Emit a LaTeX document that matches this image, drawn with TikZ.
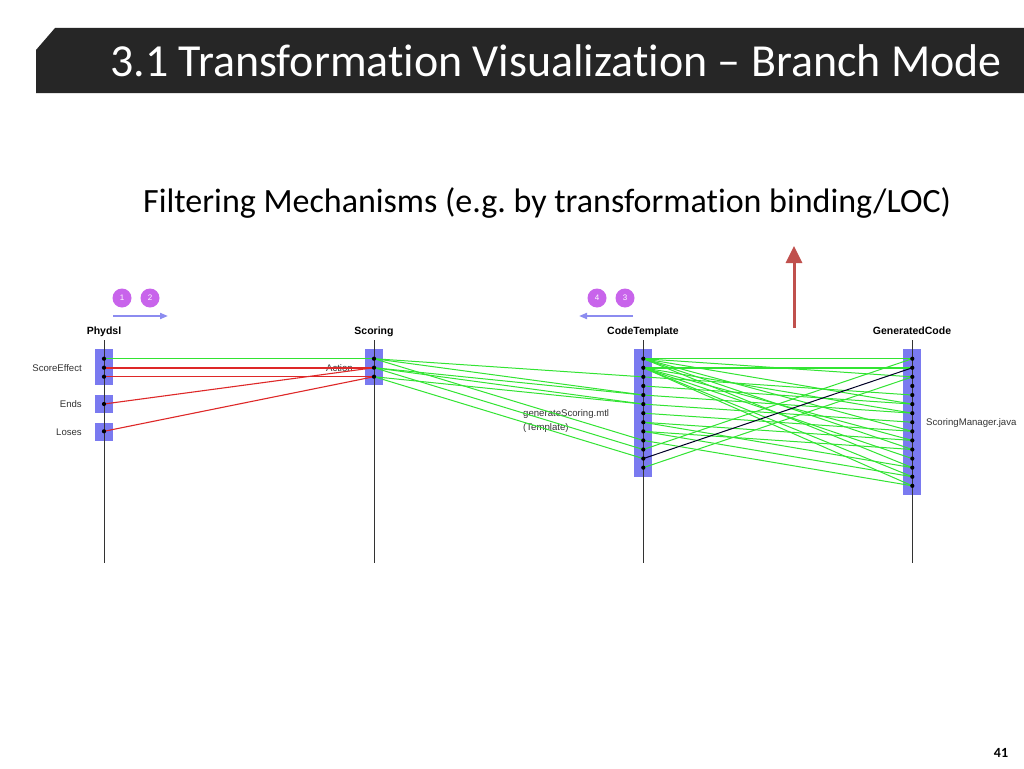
\documentclass[tikz,border=0pt]{standalone}
\usepackage{fontspec}
\setmainfont{Carlito}[Ligatures=NoCommon]
\newfontfamily\arialf{Liberation Sans}
\usetikzlibrary{arrows.meta}
\frenchspacing
\definecolor{barbg}{RGB}{38,38,38}
\definecolor{boxblue}{RGB}{122,122,240}
\definecolor{lgreen}{RGB}{50,228,50}
\definecolor{lred}{RGB}{222,40,40}
\definecolor{arrowred}{RGB}{192,80,77}
\definecolor{badge}{RGB}{200,100,235}
\definecolor{flowblue}{RGB}{140,140,240}
\tikzset{
  lifehead/.style={font=\arialf\bfseries\fontsize{10.5}{12}\selectfont, inner sep=0pt, anchor=base},
  lbl/.style={font=\arialf\fontsize{9.6}{11}\selectfont, inner sep=0pt, text=black!80},
  lifeline/.style={draw=black!80, line width=0.9pt},
  actbox/.style={fill=boxblue},
  gline/.style={draw=lgreen, line width=1pt},
  rline/.style={draw=lred, line width=1.1pt},
  dotmark/.style={circle, fill=black, inner sep=0pt, minimum size=4.2pt},
  badgecircle/.style={circle, fill=badge, text=white, inner sep=0pt, minimum size=19pt, font=\arialf\fontsize{8}{9}\selectfont},
  flow/.style={draw=flowblue, line width=1.8pt, -{Triangle[length=8pt,width=6pt]}}
}
\begin{document}
\frenchspacing
\begin{tikzpicture}[x=1pt,y=-1pt]
\useasboundingbox (0,0) rectangle (1024,768);
\fill[white] (0,0) rectangle (1024,768);
% title bar
\fill[barbg] (36,93) -- (36,50) -- (55,28) -- (1024,28) -- (1024,93) -- cycle;
\node[anchor=base west, text=white, inner sep=0pt, font=\fontsize{45.9}{48}\selectfont] (title) at (110,77) {3.1 Transformation Visualization – Branch Mode};
% subtitle
\node[anchor=base west, inner sep=0pt, font=\fontsize{34}{36}\selectfont] (subtitle) at (143,212) {Filtering Mechanisms (e.g. by transformation binding/LOC)};
% red arrow
\coordinate (rabot) at (794,328);
\coordinate (ratop) at (794,246);
\draw[arrowred, line width=3pt, -{Triangle[length=17pt,width=16pt]}] (rabot) -- (ratop);
% badges
\node[badgecircle] (b1) at (122,298) {1};
\node[badgecircle] (b2) at (150,298) {2};
\node[badgecircle] (b4) at (597,298) {4};
\node[badgecircle] (b3) at (625,298) {3};
\coordinate (f1a) at (113,316); \coordinate (f1b) at (168,316);
\coordinate (f2a) at (633,316); \coordinate (f2b) at (579,316);
\draw[flow] (f1a) -- (f1b);
\draw[flow] (f2a) -- (f2b);
% lifeline heads
\node[lifehead] (hP) at (104,334.5) {Phydsl};
\node[lifehead] (hS) at (374,334.5) {Scoring};
\node[lifehead] (hC) at (643,334.5) {CodeTemplate};
\node[lifehead] (hG) at (912,334.5) {GeneratedCode};
% activation boxes
\fill[actbox] (95,349.3) rectangle (113.3,385.3);
\fill[actbox] (95,395.3) rectangle (113.3,412.7);
\fill[actbox] (95,422.7) rectangle (113.3,440.7);
\fill[actbox] (364.7,349.3) rectangle (382.7,385.3);
\fill[actbox] (634.3,349.3) rectangle (651.7,476.7);
\fill[actbox] (903.3,349.3) rectangle (921.3,495);
% lifelines
\foreach \n/\x in {P/104,S/374,C/643.3,G/912.3}{
  \coordinate (t\n) at (\x,340);
  \coordinate (e\n) at (\x,563);
  \draw[lifeline] (t\n) -- (e\n);
}
% labels
\node[lbl, anchor=east] (lse) at (82,368) {ScoreEffect};
\node[lbl, anchor=east] (lends) at (82,404) {Ends};
\node[lbl, anchor=east] (lloses) at (82,432) {Loses};
\node[lbl, anchor=east] (lact) at (353,368) {Action};
\node[lbl, anchor=west] (lgen) at (523,414) {generateScoring.mtl};
\node[lbl, anchor=west] (ltpl) at (523,428.5) {(Template)};
\node[lbl, anchor=west] (lsm) at (926,423.3) {ScoringManager.java};
% message points
\coordinate (p1) at (104,358.7);
\coordinate (p2) at (104,367.7);
\coordinate (p3) at (104,376.7);
\coordinate (pe) at (104,404);
\coordinate (pl) at (104,431.3);
\coordinate (s1) at (374,358.7);
\coordinate (s2) at (374,367.7);
\coordinate (s3) at (374,376.7);
\foreach \i in {1,...,13}{\coordinate (c\i) at (643.3,{358.7+9.08*(\i-1)});}
\foreach \i in {1,...,15}{\coordinate (g\i) at (912.3,{358.7+9.08*(\i-1)});}
% Phydsl -> Scoring
\draw[gline] (p1) -- (s1);
\draw[rline, line width=1.6pt] (p2) -- (s2);
\draw[rline] (p3) -- (s3);
\draw[rline] (pe) -- (s2);
\draw[rline] (pl) -- (s3);
% Scoring -> CodeTemplate
\foreach \a/\b in {s1/c3,s1/c5,s2/c5,s3/c6,s2/c6,s1/c10,s2/c11,s3/c12}{
  \draw[gline] (\a) -- (\b);
}
% CodeTemplate -> GeneratedCode
\foreach \a/\b in {c1/g1,c1/g3,c1/g6,c1/g9,c1/g11,c1/g13,c2/g2,c2/g7,c2/g10,c2/g12,c2/g14,c2/g15,
  c3/g5,c4/g6,c5/g7,c6/g8,c7/g9,c8/g10,c9/g11,c8/g13,c9/g14,c10/g15,c11/g1,c13/g3}{
  \draw[gline] (\a) -- (\b);
}
\draw[gline, line width=1.8pt] (c2) -- (g2);
\draw[draw=black!85!blue, line width=1pt] (c12) -- (g2);
% dots
\foreach \c in {p1,p2,p3,pe,pl,s1,s2,s3}{\node[dotmark] at (\c) {};}
\foreach \i in {1,...,13}{\node[dotmark] at (c\i) {};}
\foreach \i in {1,...,15}{\node[dotmark] at (g\i) {};}
% page number
\node[font=\bfseries\fontsize{14}{16}\selectfont, inner sep=0pt] (pgno) at (1001,753) {41};
\end{tikzpicture}
\end{document}
